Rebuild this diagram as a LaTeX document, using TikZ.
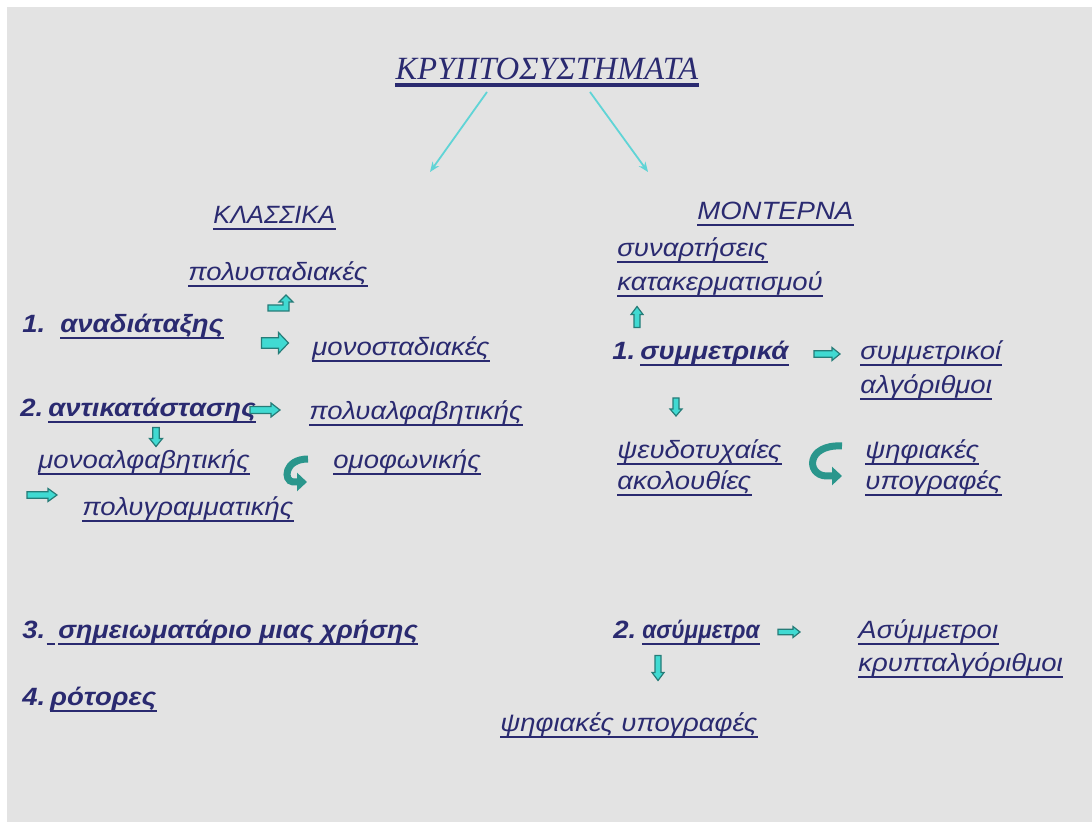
\documentclass[tikz,border=0pt]{standalone}
\usepackage{fontspec}
\setmainfont[FakeStretch=1.1]{Liberation Sans}
\newfontfamily\titlefont{Liberation Serif}
\usetikzlibrary{arrows.meta}
\definecolor{navy}{RGB}{42,42,112}
\definecolor{bggray}{RGB}{227,227,227}
\definecolor{arrfill}{RGB}{64,218,210}
\definecolor{arrline}{RGB}{38,124,120}
\definecolor{curvecol}{RGB}{42,150,140}
\definecolor{thincol}{RGB}{96,212,214}
\newcommand{\lblsize}{\fontsize{12.5}{16.5}\selectfont}
\tikzset{
  lbl/.style={anchor=base west, inner sep=0pt, text=navy, font=\itshape\lblsize},
  blbl/.style={lbl, font=\bfseries\itshape\lblsize},
  ulline/.style={navy, line width=1.2pt},
  thinarr/.style={thincol, line width=0.9pt, -{Stealth[length=5pt,width=4pt]}},
  curvarr/.style={curvecol, line width=3.5pt, -{Triangle[length=5pt,width=9pt]}},
  pics/blkarrow/.style n args={3}{code={
    \filldraw[fill=arrfill, draw=arrline, line width=0.6pt]
      (-#1/2,-#2/4) -- (#1/2-#3,-#2/4) -- (#1/2-#3,-#2/2) -- (#1/2,0)
      -- (#1/2-#3,#2/2) -- (#1/2-#3,#2/4) -- (-#1/2,#2/4) -- cycle;
  }}
}
\begin{document}
\begin{tikzpicture}[x=0.5pt,y=-0.5pt]
  \useasboundingbox (0,0) rectangle (1092,822);
  \fill[white] (0,0) rectangle (1092,822);
  \fill[bggray] (7,7) rectangle (1092,822);
  % title
  \node[anchor=base, inner sep=0pt, text=navy, font=\titlefont\itshape\fontsize{16.2}{18}\selectfont]
    (title) at (547,80) {ΚΡΥΠΤΟΣΥΣΤΗΜΑΤΑ};
  \draw[navy, line width=1.8pt] ([yshift=-2.4pt]title.base west) -- ([yshift=-2.4pt]title.base east);
  \coordinate (kstart) at (487,92);
  \coordinate (kend) at (430,172);
  \coordinate (mstart) at (590,92);
  \coordinate (mend) at (648,172);
  \draw[thinarr] (kstart) -- (kend);
  \draw[thinarr] (mstart) -- (mend);
  % left column
  \node[lbl] (klass) at (213,224) {\scalebox{0.92}[1]{ΚΛΑΣΣΙΚΑ}};
  \node[lbl] (polyst) at (188,281) {πολυσταδιακές};
  \node[blbl] (n1) at (22,333) {1.};
  \node[blbl] (anad) at (60,333) {αναδιάταξης};
  \node[lbl] (monost) at (312,356) {μονοσταδιακές};
  \node[blbl] (n2) at (20,417) {2.};
  \node[blbl] (antik) at (48,417) {αντικατάστασης};
  \node[lbl] (polyalf) at (309,420) {πολυαλφαβητικής};
  \node[lbl] (monoalf) at (38,469) {μονοαλφαβητικής};
  \node[lbl] (omof) at (333,469) {ομοφωνικής};
  \node[lbl] (polygr) at (82,516) {πολυγραμματικής};
  \node[blbl] (n3) at (22,639) {3.};
  \node[blbl] (shmei) at (58,639) {\scalebox{0.975}[1]{σημειωματάριο μιας χρήσης}};
  \node[blbl] (n4) at (22,706) {4.};
  \node[blbl] (rotor) at (50,706) {ρότορες};
  \draw[ulline] ([xshift=0.5pt,yshift=-2.5pt]n3.base east) -- ++(4pt,0);
  % left arrows
  \filldraw[fill=arrfill, draw=arrline, line width=0.6pt]
    (268,305) -- (283,305) -- (283,302) -- (279,302) -- (286,295) -- (293,302)
    -- (289,302) -- (289,311) -- (268,311) -- cycle;
  \pic at (275,343) {blkarrow={27}{21}{10}};
  \pic at (265,410) {blkarrow={30}{14}{9}};
  \pic[rotate=-90] at (156,437) {blkarrow={19}{13}{8}};
  \draw[curvarr] (308,459) .. controls (284,459) and (283,481) .. (293,482) -- (307,482);
  \pic at (42,495) {blkarrow={30}{13}{9}};
  % right column
  \node[lbl] (modern) at (697,220) {ΜΟΝΤΕΡΝΑ};
  \node[lbl] (synart) at (617,257) {συναρτήσεις};
  \node[lbl] (katak) at (617,291) {κατακερματισμού};
  \node[blbl] (m1) at (612,360) {1.};
  \node[blbl] (symm) at (640,360) {συμμετρικά};
  \node[lbl] (symalg) at (860,360) {συμμετρικοί};
  \node[lbl] (algor) at (860,394) {αλγόριθμοι};
  \node[lbl] (pseud) at (617,459) {ψευδοτυχαίες};
  \node[lbl] (akol) at (617,490) {ακολουθίες};
  \node[lbl] (psif) at (865,459) {ψηφιακές};
  \node[lbl] (ypogr) at (865,490) {υπογραφές};
  \node[blbl] (m2) at (613,639) {2.};
  \node[blbl] (asymm) at (642,639) {\scalebox{0.82}[1]{ασύμμετρα}};
  \node[lbl] (asalg) at (858,639) {Ασύμμετροι};
  \node[lbl] (krypt) at (858,672) {κρυπταλγόριθμοι};
  \node[lbl] (psif2) at (500,732) {ψηφιακές υπογραφές};
  % right arrows
  \pic[rotate=90] at (637,317) {blkarrow={21}{12}{8}};
  \pic at (827,354) {blkarrow={26}{13}{8}};
  \pic[rotate=-90] at (676,407) {blkarrow={18}{12}{7}};
  \draw[curvarr] (842,446) .. controls (806,444) and (806,475) .. (826,476) -- (842,476);
  \pic at (789,632) {blkarrow={22}{11}{7}};
  \pic[rotate=-90] at (658,668) {blkarrow={25}{12}{8}};
  % underlines
  \foreach \n in {klass,polyst,anad,monost,antik,polyalf,monoalf,omof,polygr,shmei,rotor,
    modern,synart,katak,symm,symalg,algor,pseud,akol,psif,ypogr,asymm,asalg,krypt,psif2}
    \draw[ulline] ([yshift=-2.5pt]\n.base west) -- ([yshift=-2.5pt]\n.base east);
\end{tikzpicture}
\end{document}
